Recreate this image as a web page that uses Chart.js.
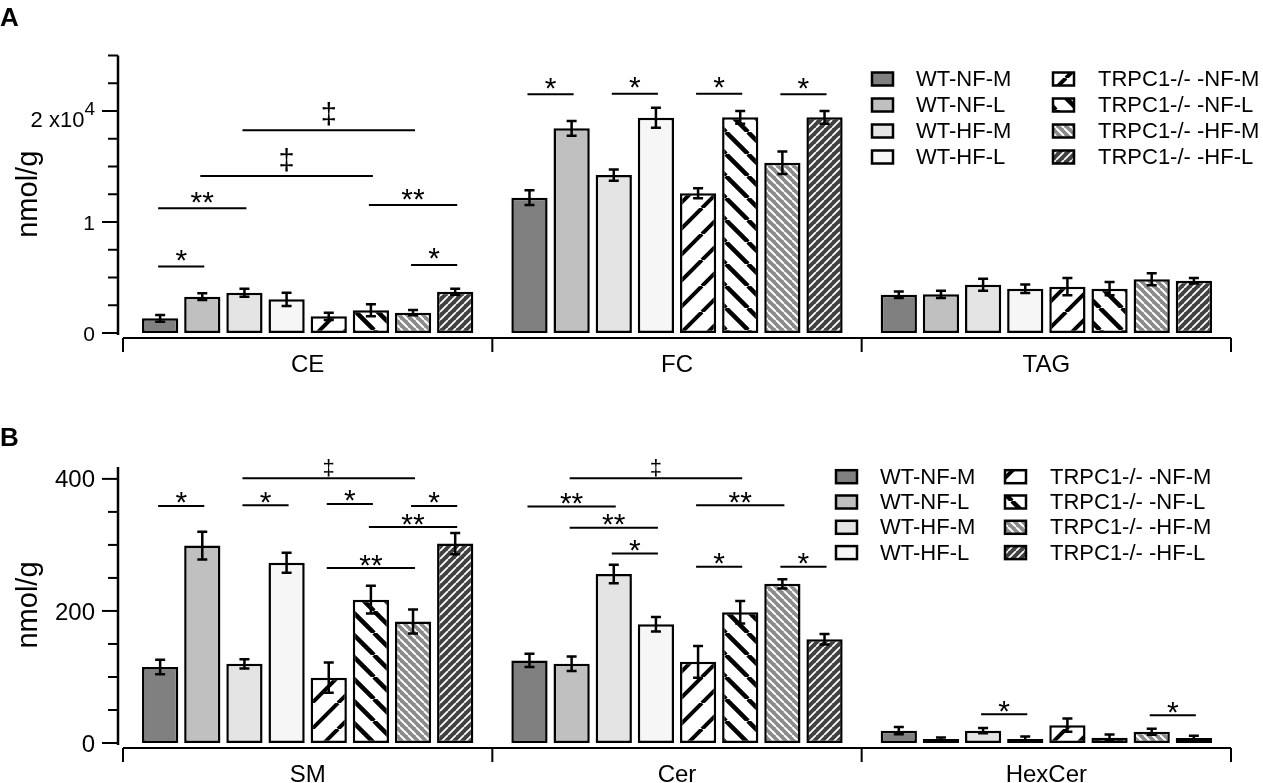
<!DOCTYPE html>
<html>
<head>
<meta charset="utf-8">
<title>Lipid content, WT vs TRPC1-/-</title>
<script src="https://cdn.jsdelivr.net/npm/chart.js@4.4.1/dist/chart.umd.min.js"></script>
<style>
  body { margin: 0; background: #fff; width: 1263px; height: 783px; overflow: hidden; position: relative; }
  .panel { position: absolute; left: 0; width: 1263px; }
  #panelA { top: 0; height: 391px; }
  #panelB { top: 391px; height: 392px; }
</style>
</head>
<body>
<div class="panel" id="panelA"><canvas id="chartA"></canvas></div>
<div class="panel" id="panelB"><canvas id="chartB"></canvas></div>
<script>
'use strict';

// Series (one bar per group for each of them).
const seriesNames = ['WT-NF-M', 'WT-NF-L', 'WT-HF-M', 'WT-HF-L',
  'TRPC1-/- -NF-M', 'TRPC1-/- -NF-L', 'TRPC1-/- -HF-M', 'TRPC1-/- -HF-L'];

// Panel A categories, means and error bars (nmol/g), in series order.
const groupsA = ['CE', 'FC', 'TAG'];
const meanCE = [1320, 3270, 3630, 3030, 1500, 2040, 1830, 3720];
const errCE = [300, 300, 360, 600, 330, 540, 240, 270];
const meanFC = [12190, 18440, 14230, 19400, 12580, 19430, 15340, 19430];
const errFC = [660, 660, 510, 900, 450, 570, 1020, 570];
const meanTAG = [3450, 3480, 4350, 3990, 4170, 3990, 4840, 4710];
const errTAG = [300, 330, 540, 390, 780, 600, 540, 240];

// Panel B categories, means and error bars (nmol/g).
const groupsB = ['SM', 'Cer', 'HexCer'];
const meanSM = [115, 299, 120, 273, 99, 217, 184, 302];
const errSM = [11, 21, 7, 15, 23, 21, 18, 16];
const meanCer = [125, 120, 256, 180, 123, 198, 241, 157];
const errCer = [10, 11, 14, 11, 24, 17, 7, 8];
const meanHexCer = [18.6, 6, 18.6, 6, 27, 8, 17, 7.5];
const errHexCer = [5.5, 2.5, 4, 4, 10, 5, 4.5, 3.5];

// Y axis ticks and labels.
const yTicksA = [0, 2500, 5000, 7500, 10000, 12500, 15000, 17500, 20000, 22500, 25000];
const yLabelsA = [[0, '0'], [10000, '1'], [20000, '2 x10', '4']];
const yTicksB = [0, 50, 100, 150, 200, 250, 300, 350, 400];
const yLabelsB = [[0, '0'], [200, '200'], [400, '400']];

// Significance marks: [group, from bar, to bar, height (nmol/g), label]
const sigA = [
  [0, 0, 1, 6000, '*'], [0, 0, 2, 11230, '**'], [0, 1, 5, 14150, '‡'],
  [0, 2, 6, 18260, '‡'], [0, 5, 7, 11530, '**'], [0, 6, 7, 6130, '*'],
  [1, 0, 1, 21500, '*'], [1, 2, 3, 21560, '*'], [1, 4, 5, 21560, '*'], [1, 6, 7, 21500, '*']
];
const sigB = [
  [0, 0, 1, 359, '*'], [0, 2, 6, 401, '‡'], [0, 2, 3, 360, '*'], [0, 4, 5, 362, '*'],
  [0, 6, 7, 359, '*'], [0, 5, 7, 327, '**'], [0, 4, 6, 265, '**'],
  [1, 1, 5, 401, '‡'], [1, 0, 2, 358, '**'], [1, 1, 3, 326, '**'], [1, 2, 3, 287, '*'],
  [1, 4, 6, 360, '**'], [1, 4, 5, 267, '*'], [1, 6, 7, 267, '*'],
  [2, 2, 3, 43.5, '*'], [2, 6, 7, 42, '*']
];

const FONT = '"Liberation Sans", Arial, sans-serif';

// Diagonal stripe pattern tile.
function stripes(ctx, bg, fg, period, width, dir) {
  const c = document.createElement('canvas');
  c.width = period;
  c.height = period;
  const g = c.getContext('2d');
  g.fillStyle = bg;
  g.fillRect(0, 0, period, period);
  g.strokeStyle = fg;
  g.lineWidth = width;
  g.beginPath();
  for (let k = -1; k <= 1; k++) {
    if (dir === '/') {
      g.moveTo(k * period, period);
      g.lineTo(k * period + period, 0);
    } else {
      g.moveTo(k * period, 0);
      g.lineTo(k * period + period, period);
    }
  }
  g.stroke();
  return ctx.createPattern(c, 'repeat');
}

function fillsFor(ctx) {
  return [
    '#808080', '#c0c0c0', '#e4e4e4', '#f6f6f6',
    stripes(ctx, '#ffffff', '#000000', 26, 4, '/'),
    stripes(ctx, '#ffffff', '#000000', 22, 4.5, '\\'),
    stripes(ctx, '#8a8a8a', '#ffffff', 8, 2, '\\'),
    stripes(ctx, '#404040', '#ffffff', 8, 1.8, '/')
  ];
}

// Draws error bars, significance marks, axes, legend and labels.
const decor = {
  id: 'decor',
  afterDatasetsDraw(chart, args, o) {
    const ctx = chart.ctx;
    const xs = chart.scales.x;
    const ys = chart.scales.y;
    const area = chart.chartArea;
    ctx.save();
    ctx.strokeStyle = '#000';
    ctx.fillStyle = '#000';

    // error bars
    ctx.lineWidth = 2.5;
    chart.data.datasets.forEach((ds, i) => {
      chart.getDatasetMeta(i).data.forEach((bar, j) => {
        const m = ds.data[j];
        const e = ds.errors[j];
        const yt = ys.getPixelForValue(m + e);
        const yb = ys.getPixelForValue(Math.max(m - e, 0));
        ctx.beginPath();
        ctx.moveTo(bar.x, yt); ctx.lineTo(bar.x, yb);
        ctx.moveTo(bar.x - 5, yt); ctx.lineTo(bar.x + 5, yt);
        ctx.moveTo(bar.x - 5, yb); ctx.lineTo(bar.x + 5, yb);
        ctx.stroke();
      });
    });

    // significance lines
    ctx.lineWidth = 2;
    ctx.textAlign = 'center';
    ctx.textBaseline = 'alphabetic';
    o.sigs.forEach(([g, a, b, v, label]) => {
      const xa = chart.getDatasetMeta(a).data[g].x - 2;
      const xb = chart.getDatasetMeta(b).data[g].x + 2;
      const y = ys.getPixelForValue(v);
      ctx.beginPath();
      ctx.moveTo(xa, y); ctx.lineTo(xb, y);
      ctx.stroke();
      const dagger = label === '‡';
      ctx.font = (dagger ? o.daggerFont : o.starFont) + 'px ' + FONT;
      const gap = dagger ? o.daggerGap : o.starGap;
      const mt = ctx.measureText(label);
      const base = y - gap - (mt.actualBoundingBoxDescent - mt.actualBoundingBoxAscent) / 2;
      ctx.fillText(label, (xa + xb) / 2, base);
    });

    // y axis
    const axX = area.left - 5;
    const y0 = ys.getPixelForValue(0);
    ctx.lineWidth = 2.5;
    ctx.beginPath();
    ctx.moveTo(axX, area.top);
    ctx.lineTo(axX, y0 + 2);
    ctx.stroke();
    ctx.lineWidth = 2;
    const majors = o.yLabels.map(l => l[0]);
    o.yTicks.forEach(v => {
      const y = ys.getPixelForValue(v);
      const len = majors.includes(v) ? 16 : 10;
      ctx.beginPath();
      ctx.moveTo(axX - len, y); ctx.lineTo(axX, y);
      ctx.stroke();
    });
    ctx.textAlign = 'right';
    ctx.font = o.tickFont + 'px ' + FONT;
    const capH = o.tickFont * 0.716;
    o.yLabels.forEach(([v, text, sup]) => {
      const y = ys.getPixelForValue(v);
      const right = axX - 23;
      if (sup) {
        ctx.font = '19px ' + FONT;
        const w = ctx.measureText(sup).width;
        ctx.fillText(sup, right, y + 4);
        ctx.font = '22px ' + FONT;
        ctx.fillText(text, right - w, y + 16);
      } else {
        ctx.fillText(text, right, y + capH / 2);
      }
    });

    // x axis with group boundary ticks
    const axY = area.bottom + 5;
    ctx.lineWidth = 2;
    ctx.beginPath();
    ctx.moveTo(area.left, axY); ctx.lineTo(area.right, axY);
    for (let i = 0; i <= chart.data.labels.length; i++) {
      const x = xs.getPixelForValue(i - 0.5);
      ctx.moveTo(x, axY); ctx.lineTo(x, axY + 14);
    }
    ctx.stroke();
    ctx.textAlign = 'center';
    ctx.font = '24px ' + FONT;
    chart.data.labels.forEach((lab, i) => {
      ctx.fillText(lab, xs.getPixelForValue(i), area.bottom + 39);
    });

    // y title
    ctx.save();
    ctx.translate(o.titleX, (area.top + area.bottom) / 2);
    ctx.rotate(-Math.PI / 2);
    ctx.textBaseline = 'middle';
    ctx.font = '29px ' + FONT;
    ctx.fillText('nmol/g', 0, 0);
    ctx.restore();

    // panel letter
    ctx.textAlign = 'left';
    ctx.font = 'bold 26px ' + FONT;
    ctx.fillText(o.letter, 0, o.letterY);

    // legend, two columns
    ctx.font = '22px ' + FONT;
    ctx.textBaseline = 'middle';
    chart.data.datasets.forEach((ds, i) => {
      const col = i < 4 ? 0 : 1;
      const cy = o.legendTop + (i % 4) * o.legendStep;
      const sx = o.legendSwatchX[col];
      ctx.fillStyle = ds.backgroundColor;
      ctx.fillRect(sx, cy - 6.5, 21, 13);
      ctx.lineWidth = 2.5;
      ctx.strokeRect(sx, cy - 6.5, 21, 13);
      ctx.fillStyle = '#000';
      ctx.fillText(ds.label, o.legendTextX[col], cy + 1);
    });
    ctx.restore();
  }
};

function makeChart(id, groups, means, errs, yMax, padding, decorOpts) {
  const canvas = document.getElementById(id);
  const fills = fillsFor(canvas.getContext('2d'));
  const datasets = seriesNames.map((name, i) => ({
    label: name,
    data: means.map(g => g[i]),
    errors: errs.map(g => g[i]),
    backgroundColor: fills[i],
    borderColor: '#000',
    borderWidth: 2.5,
    borderSkipped: false,
    barPercentage: 0.86,
    categoryPercentage: 0.913
  }));
  return new Chart(canvas, {
    type: 'bar',
    data: { labels: groups, datasets: datasets },
    options: {
      responsive: true,
      maintainAspectRatio: false,
      animation: false,
      layout: { padding: padding },
      plugins: {
        legend: { display: false },
        tooltip: { enabled: false },
        decor: decorOpts
      },
      scales: {
        x: { display: false },
        y: { display: false, min: 0, max: yMax }
      }
    },
    plugins: [decor]
  });
}

makeChart('chartA', groupsA, [meanCE, meanFC, meanTAG], [errCE, errFC, errTAG], 25000,
  { left: 123, right: 32, top: 55.5, bottom: 58 },
  {
    sigs: sigA, yTicks: yTicksA, yLabels: yLabelsA, tickFont: 21,
    starFont: 30, starGap: 11, daggerFont: 29, daggerGap: 16,
    titleX: 29, letter: 'A', letterY: 26,
    legendTop: 79, legendStep: 26, legendSwatchX: [872, 1053], legendTextX: [916, 1098]
  });

makeChart('chartB', groupsB, [meanSM, meanCer, meanHexCer], [errSM, errCer, errHexCer], 418,
  { left: 123, right: 32, top: 76, bottom: 40 },
  {
    sigs: sigB, yTicks: yTicksB, yLabels: yLabelsB, tickFont: 24,
    starFont: 30, starGap: 8, daggerFont: 22, daggerGap: 10,
    titleX: 29, letter: 'B', letterY: 55,
    legendTop: 85.7, legendStep: 25.3, legendSwatchX: [836, 1005], legendTextX: [880, 1050]
  });
</script>
</body>
</html>
